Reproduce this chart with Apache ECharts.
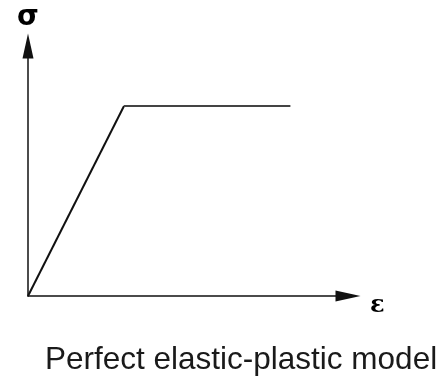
<!DOCTYPE html>
<html>
<head>
<meta charset="utf-8">
<script src="https://cdn.jsdelivr.net/npm/echarts@6/dist/echarts.min.js"></script>
<style>
    html, body { margin: 0; padding: 0; background: #fff; }
    #chart { width: 444px; height: 379px; }
</style>
</head>
<body>
<div id="chart"></div>
<script>
    // schematic stress-strain curve (no ticks in the source, axis runs 0..100)
    const strain = [0, 30, 82];
    const stress = [0, 76, 76];
    const axisMax = 100;
    const captionText = 'Perfect elastic-plastic model';

    let elastic = [[strain[0], stress[0]], [strain[1], stress[1]]];
    let plastic = [[strain[1], stress[1]], [strain[2], stress[2]]];

    let myChart = echarts.init(document.getElementById('chart'));

    let axisCommon = {
        type: 'value',
        min: 0,
        max: axisMax,
        splitLine: { show: false },
        axisTick: { show: false },
        axisLabel: { show: false },
        nameLocation: 'end',
        axisLine: {
            show: true,
            symbol: ['none', 'triangle'],
            symbolSize: [11, 25],
            lineStyle: { color: '#111', width: 1.5 }
        }
    };

    let option = {
        animation: false,
        title: {
            text: captionText,
            left: 45,
            top: 344,
            padding: 0,
            textStyle: {
                fontFamily: 'Liberation Sans',
                fontWeight: 'normal',
                fontSize: 31.5,
                color: '#1a1a1a'
            }
        },
        grid: {
            left: 28,
            right: 96,
            top: 46,
            bottom: 83,
            outerBoundsMode: 'none'
        },
        xAxis: Object.assign({}, axisCommon, {
            name: 'ε',
            nameGap: 22,
            nameTextStyle: {
                fontFamily: 'DejaVu Serif',
                fontWeight: 'bold',
                fontSize: 24,
                color: '#000',
                align: 'left',
                verticalAlign: 'top',
                lineHeight: 20
            }
        }),
        yAxis: Object.assign({}, axisCommon, {
            name: 'σ',
            nameGap: 14,
            nameTextStyle: {
                fontFamily: 'DejaVu Sans',
                fontWeight: 'bold',
                fontSize: 28,
                color: '#000',
                align: 'center'
            }
        }),
        series: [
            {
                name: 'elastic',
                type: 'line',
                data: elastic,
                showSymbol: false,
                lineStyle: { color: '#111', width: 2 }
            },
            {
                name: 'plastic',
                type: 'line',
                data: plastic,
                showSymbol: false,
                lineStyle: { color: '#444', width: 2 }
            }
        ]
    };
    myChart.setOption(option);
</script>
</body>
</html>
